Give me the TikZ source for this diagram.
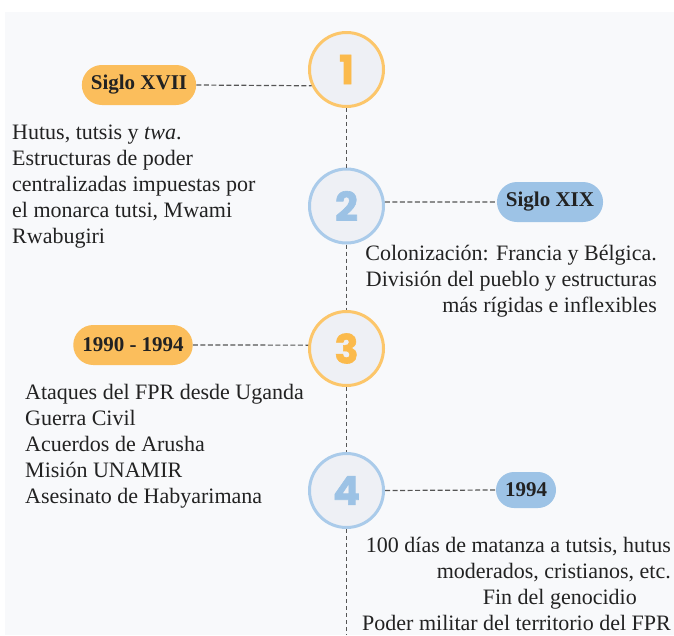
\documentclass[tikz,border=0pt]{standalone}
\usepackage{fontspec}
\usepackage{tikz}
\setmainfont{Liberation Serif}
\newfontfamily\numfont{Poppins}[BoldFeatures={FakeBold=1.5}]
\definecolor{panelgris}{RGB}{248,249,251}
\definecolor{circfondo}{RGB}{238,240,245}
\definecolor{naranjaaro}{RGB}{252,198,106}
\definecolor{naranjanum}{RGB}{251,186,76}
\definecolor{naranjapill}{RGB}{251,190,92}
\definecolor{azularo}{RGB}{170,203,234}
\definecolor{azulnum}{RGB}{156,194,229}
\definecolor{azulpill}{RGB}{157,195,230}
\definecolor{textogris}{RGB}{34,34,34}
\definecolor{lineagris}{RGB}{85,85,85}
\tikzset{
  hito/.style={circle,minimum size=74pt,inner sep=0pt,line width=3pt,
    fill=circfondo,font=\numfont\bfseries\fontsize{40}{40}\selectfont},
  hitonar/.style={hito,draw=naranjaaro,text=naranjanum},
  hitoazul/.style={hito,draw=azularo,text=azulnum},
  fecha/.style={rectangle,rounded corners=20pt,minimum height=40pt,inner xsep=9pt,
    inner ysep=0pt,font=\bfseries\fontsize{21}{21}\selectfont,text=textogris},
  texto/.style={inner sep=0pt,font=\fontsize{22}{26}\selectfont,text=textogris},
  enlace/.style={lineagris,line width=1.2pt,dash pattern=on 5pt off 2.5pt},
  eje/.style={lineagris,line width=0.9pt,dash pattern=on 4pt off 3pt}
}

\begin{document}
\begin{tikzpicture}[x=1pt,y=-1pt]
    \useasboundingbox (0,0) rectangle (674,635);
    \fill[white] (0,0) rectangle (674,635);
    \fill[panelgris] (5,12) rectangle (674,635);
    % hitos del eje
    \node[hitonar]  (c1) at (346.5,69.5) {1};
    \node[hitoazul] (c2) at (346.5,206) {2};
    \node[hitonar]  (c3) at (346.5,348.5) {3};
    \node[hitoazul] (c4) at (346.5,490.5) {4};
    \coordinate (fin) at (346.5,635);
    \draw[eje] (c1.south) -- (c2.north);
    \draw[eje] (c2.south) -- (c3.north);
    \draw[eje] (c3.south) -- (c4.north);
    \draw[eje] (c4.south) -- (fin);
    % fechas
    \node[fecha,fill=naranjapill] (p1) at (139,85) {Siglo XVII};
    \node[fecha,fill=azulpill] (p2) at (550,202) {Siglo XIX};
    \node[fecha,fill=naranjapill] (p3) at (133,345) {1990 - 1994};
    \node[fecha,fill=azulpill,minimum height=36pt,rounded corners=18pt] (p4) at (526,490) {1994};
    \draw[enlace] (p1.east) -- (c1.205);
    \draw[enlace] (c2.6) -- (p2.west);
    \draw[enlace] (p3.east) -- (c3.175);
    \draw[enlace] (c4.east) -- (p4.west);
    % textos (base = ultima linea)
    \node[texto,align=left,anchor=base west] (t1) at (12,243)
      {Hutus, tutsis y \textit{twa}.\\Estructuras de poder\\centralizadas impuestas por\\el monarca tutsi, Mwami\\Rwabugiri};
    \node[texto,align=right,anchor=base east] (t2) at (657,312)
      {Colonización: Francia y Bélgica.\\División del pueblo y estructuras\\más rígidas e inflexibles};
    \node[texto,align=left,anchor=base west] (t3) at (25,503)
      {Ataques del FPR desde Uganda\\Guerra Civil\\Acuerdos de Arusha\\Misión UNAMIR\\Asesinato de Habyarimana};
    \node[texto,align=right,anchor=base east] (t4) at (671,630)
      {100 días de matanza a tutsis, hutus\\moderados, cristianos, etc.\\Fin del genocidio\rule{34pt}{0pt}\\Poder militar del territorio del FPR};
  \end{tikzpicture}
\end{document}
